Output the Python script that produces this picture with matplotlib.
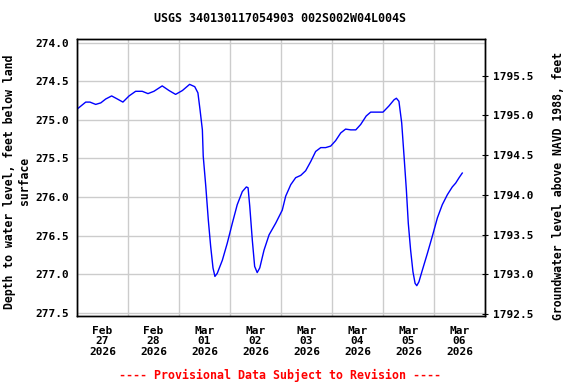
#!/bin/env python3
"""
Groundwater depth hydrograph for USGS 340130117054903, drawn in the NWIS style.
"""

import numpy as np
import pandas as pd
import matplotlib
matplotlib.use("Agg")
import matplotlib.pyplot as plt
import matplotlib.dates as mdates

site_title = "USGS 340130117054903 002S002W04L004S"
start = pd.Timestamp("2026-02-27 00:00")

# hours since Feb 27 00:00 and depth to water (ft below land surface)
hours = [0.1, 4.1, 6.1, 8.8, 11.2, 13.5, 16.3, 19.0, 21.6, 24.5, 27.6, 30.7,
         33.4, 36.2, 40.1, 43.3, 46.4, 49.6, 53.0, 55.4, 56.9, 57.9, 59.0, 59.4,
         60.6, 61.8, 62.9, 64.0, 64.9, 66.0, 68.4, 70.7, 73.1, 75.4, 77.8, 79.7,
         80.5, 81.3, 82.5, 83.6, 84.8, 86.0, 88.0, 90.4, 93.5, 96.6, 98.2, 100.6,
         102.9, 105.3, 107.6, 110.0, 112.3, 114.7, 117.0, 119.4, 121.7, 124.1,
         126.4, 128.8, 131.2, 133.5, 136.1, 138.2, 144.0, 146.8, 149.2, 150.3,
         151.5, 152.8, 153.9, 155.0, 155.9, 157.0, 158.1, 159.1, 159.9, 160.9,
         162.5, 164.9, 167.2, 169.6, 171.9, 174.3, 176.6, 178.2, 179.8, 181.3]
depth = [274.86, 274.77, 274.77, 274.80, 274.78, 274.73, 274.69, 274.73, 274.77,
         274.69, 274.63, 274.63, 274.66, 274.63, 274.56, 274.62, 274.67, 274.62,
         274.54, 274.57, 274.65, 274.87, 275.13, 275.47, 275.86, 276.30, 276.64,
         276.92, 277.03, 276.99, 276.82, 276.60, 276.34, 276.10, 275.93, 275.87,
         275.88, 276.12, 276.56, 276.90, 276.98, 276.92, 276.69, 276.49, 276.34,
         276.17, 275.99, 275.84, 275.75, 275.72, 275.66, 275.54, 275.41, 275.36,
         275.36, 275.34, 275.27, 275.17, 275.12, 275.13, 275.13, 275.06, 274.95,
         274.90, 274.90, 274.82, 274.74, 274.72, 274.76, 275.04, 275.47, 275.91,
         276.34, 276.69, 276.97, 277.12, 277.15, 277.10, 276.95, 276.73, 276.51,
         276.27, 276.10, 275.97, 275.87, 275.82, 275.75, 275.69]

left_ticks = [274.0, 274.5, 275.0, 275.5, 276.0, 276.5, 277.0, 277.5]
right_ticks = [1792.5, 1793.0, 1793.5, 1794.0, 1794.5, 1795.0, 1795.5]

plt.rcParams['font.family'] = ['DejaVu Sans Mono']
plt.rcParams['font.weight'] = 'bold'
plt.rcParams['axes.labelweight'] = 'bold'

times = start + pd.to_timedelta(hours, unit="h")

fig = plt.figure(figsize=(5.76, 3.84), dpi=100)
ax = fig.add_axes([77 / 576, 1 - 316 / 384, 408 / 576, 277 / 384])

ax.plot(times, depth, color="#0000ff", lw=1.0, zorder=3)

# x: labels at noon, grid at midnight
ax.set_xlim(start, start + pd.Timedelta(days=8))
ax.xaxis.set_major_locator(mdates.HourLocator(byhour=[12]))
ax.xaxis.set_minor_locator(mdates.DayLocator())
ax.xaxis.set_major_formatter(mdates.DateFormatter("%b\n%d\n%Y"))
ax.grid(True, which="minor", axis="x", color="#cccccc", lw=1)
ax.tick_params(axis="x", which="both", length=0, labelsize=8, pad=7)
for lab in ax.get_xticklabels():
    lab.set_fontweight("bold")
    lab.set_linespacing(1.05)

# left y: depth, inverted
ax.set_ylim(277.543, 273.952)
ax.set_yticks(left_ticks)
ax.yaxis.set_major_formatter(matplotlib.ticker.FormatStrFormatter("%.1f"))
ax.grid(True, which="major", axis="y", color="#cccccc", lw=1)
ax.tick_params(axis="y", length=0, labelsize=8, pad=6)
ax.set_ylabel("Depth to water level, feet below land\nsurface", fontsize=8.3,
              fontweight="bold", linespacing=1.15)
ax.yaxis.set_label_coords(-0.113, 0.486)

# right y: elevation
ax2 = ax.twinx()
ax2.set_ylim(1792.475, 1795.962)
ax2.set_yticks(right_ticks)
ax2.yaxis.set_major_formatter(matplotlib.ticker.FormatStrFormatter("%.1f"))
ax2.tick_params(axis="y", direction="inout", length=5, labelsize=8, pad=3)
ax2.set_ylabel("Groundwater level above NAVD 1988, feet", fontsize=8.3,
               fontweight="bold")
ax2.yaxis.set_label_coords(1.164, 0.468)

for a in (ax, ax2):
    for lab in a.get_yticklabels():
        lab.set_fontweight("bold")
    for s in a.spines.values():
        s.set_linewidth(1.0)
        s.set_color("black")

fig.text(280 / 576, 1 - 19 / 384, site_title, ha="center", va="center",
         fontsize=8.4, fontweight="bold")
fig.text(280 / 576, 1 - 375 / 384, "---- Provisional Data Subject to Revision ----",
         ha="center", va="center", fontsize=8.4, color="red", fontweight="bold")

fig.savefig("out.png", dpi=100)
